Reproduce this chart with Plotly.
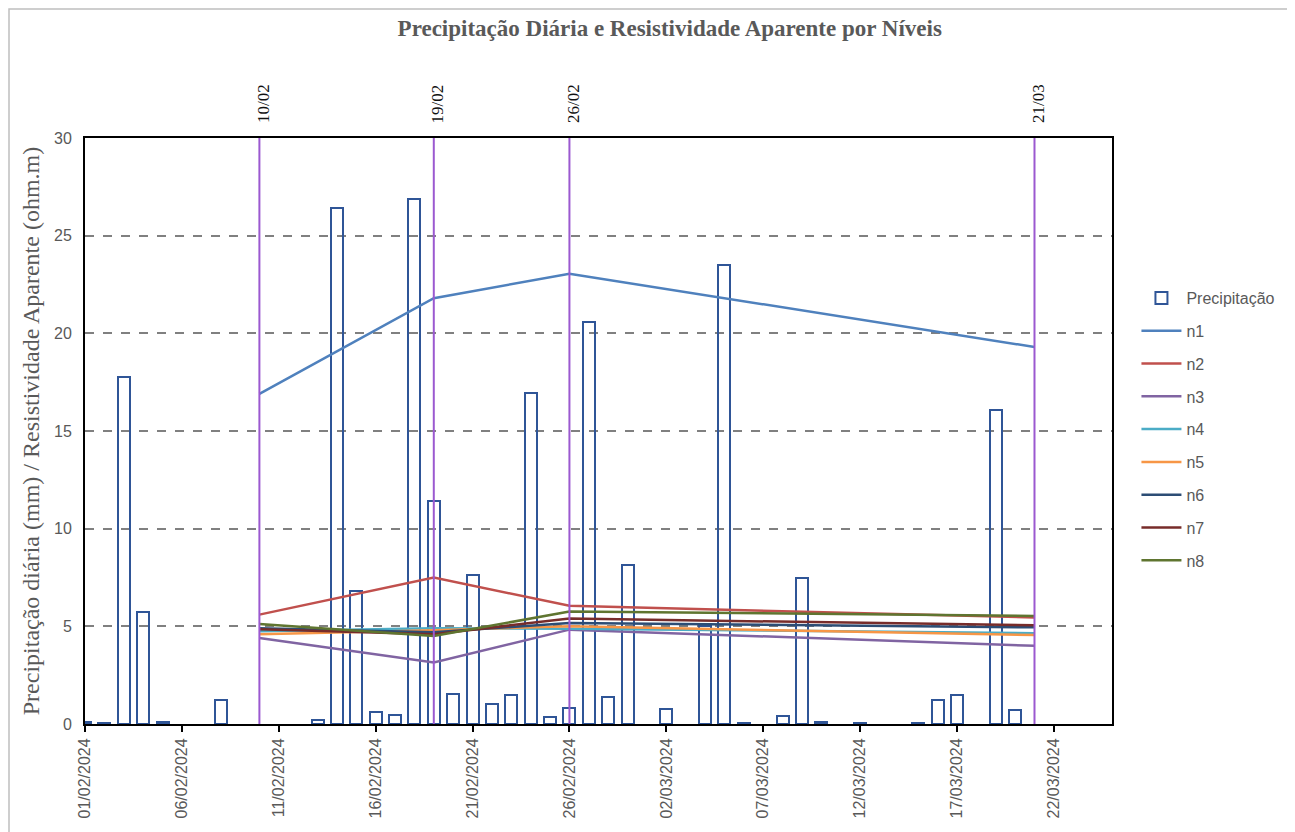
import plotly.graph_objects as go

# ---------------- data ----------------
precip_dates = ["2024-02-01", "2024-02-02", "2024-02-03", "2024-02-04", "2024-02-05", "2024-02-08",
                "2024-02-13", "2024-02-14", "2024-02-15", "2024-02-16", "2024-02-17", "2024-02-18",
                "2024-02-19", "2024-02-20", "2024-02-21", "2024-02-22", "2024-02-23", "2024-02-24",
                "2024-02-25", "2024-02-26", "2024-02-27", "2024-02-28", "2024-02-29", "2024-03-02",
                "2024-03-04", "2024-03-05", "2024-03-06", "2024-03-08", "2024-03-09", "2024-03-10",
                "2024-03-12", "2024-03-15", "2024-03-16", "2024-03-17", "2024-03-19", "2024-03-20"]
precip_mm = [0.1, 0.05, 17.75, 5.75, 0.1, 1.25,
             0.2, 26.4, 6.8, 0.6, 0.45, 26.9,
             11.4, 1.55, 7.65, 1.0, 1.5, 16.95,
             0.35, 0.8, 20.6, 1.4, 8.15, 0.75,
             5.0, 23.5, 0.05, 0.4, 7.45, 0.1,
             0.05, 0.05, 1.25, 1.5, 16.1, 0.7]

survey_dates = ["2024-02-10", "2024-02-19", "2024-02-26", "2024-03-21"]
survey_labels = ["10/02", "19/02", "26/02", "21/03"]

n1 = [16.9, 21.8, 23.05, 19.3]
n2 = [5.6, 7.5, 6.05, 5.45]
n3 = [4.4, 3.15, 4.83, 4.0]
n4 = [4.75, 4.9, 4.88, 4.65]
n5 = [4.6, 4.8, 5.0, 4.55]
n6 = [4.9, 4.7, 5.17, 4.95]
n7 = [4.85, 4.6, 5.4, 5.05]
n8 = [5.12, 4.5, 5.76, 5.53]

series = [("n1", n1, "#4F81BD"), ("n2", n2, "#C0504D"), ("n3", n3, "#8064A2"),
          ("n4", n4, "#4BACC6"), ("n5", n5, "#F79646"), ("n6", n6, "#2C4D75"),
          ("n7", n7, "#772C2A"), ("n8", n8, "#5F7530")]

y_ticks = [0, 5, 10, 15, 20, 25, 30]

DAY_MS = 86400000
GRAY = "#595959"
SERIF = "Liberation Serif"
SANS = "Liberation Sans"

W, H = 1295, 832
ML, MR, MT, MB = 77, 191, 130, 116
PW, PH = W - ML - MR, H - MT - MB

fig = go.Figure()

fig.add_trace(go.Bar(
    x=precip_dates, y=precip_mm, name="Precipitação",
    width=0.62 * DAY_MS,
    marker=dict(color="rgba(255,255,255,0)", line=dict(color="#2F5597", width=2)),
    legendgroup="p",
))

for name, vals, col in series:
    fig.add_trace(go.Scatter(
        x=survey_dates, y=vals, name=name, mode="lines",
        line=dict(color=col, width=2.5), legendgroup=name,
    ))

# survey vertical lines
for d, lab in zip(survey_dates, survey_labels):
    fig.add_shape(type="line", xref="x", yref="y", x0=d, x1=d, y0=0, y1=30,
                  line=dict(color="#9B59D0", width=2), layer="above")
    fig.add_annotation(x=d, xref="x", y=1.022, yref="paper", text=lab,
                       textangle=-90, showarrow=False, xanchor="center", yanchor="bottom",
                       xshift=4, font=dict(family=SERIF, size=17, color="#111111"))

# outer frame
fig.add_shape(type="rect", xref="paper", yref="paper",
              x0=(1 - ML) / PW, x1=(1281 - ML) / PW,
              y0=(MT + PH - 840) / PH, y1=(MT + PH - 1) / PH,
              line=dict(color="#BFBFBF", width=1.5), layer="below")

fig.update_layout(
    width=W, height=H,
    margin=dict(l=ML, r=MR, t=MT, b=MB, autoexpand=False),
    paper_bgcolor="white", plot_bgcolor="white",
    title=dict(text="<b>Precipitação Diária e Resistividade Aparente por Níveis</b>",
               x=0.511, xanchor="center", y=1 - 20 / H, yanchor="middle",
               font=dict(family=SERIF, size=23, color=GRAY)),
    showlegend=True,
    legend=dict(x=1.0238, y=0.756, xanchor="left", yanchor="top",
                font=dict(family=SANS, size=16, color=GRAY),
                tracegroupgap=9, itemwidth=40, bgcolor="rgba(0,0,0,0)"),
    bargap=0,
)

fig.update_xaxes(
    type="date", range=["2024-02-01", "2024-03-25"], automargin=False,
    tick0="2024-02-01", dtick=5 * DAY_MS, tickformat="%d/%m/%Y", tickangle=-90,
    ticks="outside", ticklen=6, tickcolor="black", tickwidth=1.5,
    showgrid=False, showline=True, linecolor="black", linewidth=2, mirror=True,
    tickfont=dict(family=SANS, size=16, color=GRAY),
)
fig.update_yaxes(
    range=[0, 30], tickvals=y_ticks, automargin=False,
    showgrid=True, gridcolor="#808080", griddash="dash", gridwidth=1.5,
    showline=True, linecolor="black", linewidth=2, mirror=True,
    ticks="", zeroline=False, ticklabelstandoff=8,
    tickfont=dict(family=SANS, size=16, color=GRAY),
    title=dict(text="Precipitação diária (mm) / Resistividade Aparente (ohm.m)",
               font=dict(family=SERIF, size=24, color=GRAY), standoff=8),
)

fig.write_html("out.html")
